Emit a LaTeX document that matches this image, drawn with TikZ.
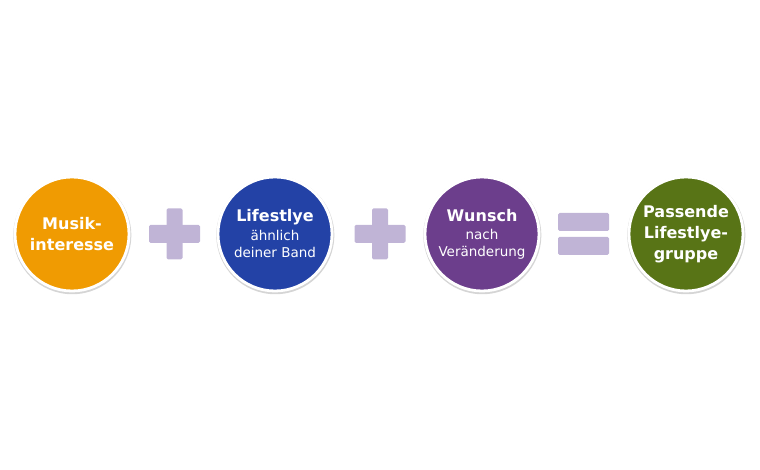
\documentclass[tikz,border=0pt]{standalone}
\usepackage{fontspec}
\setmainfont{DejaVu Sans}
\usepackage{xcolor}
\usetikzlibrary{positioning, shadows}

\definecolor{musikorange}{HTML}{F09B02}
\definecolor{bandblue}{HTML}{2342A6}
\definecolor{wunschpurple}{HTML}{6C3E8C}
\definecolor{gruppegreen}{HTML}{587416}
\definecolor{oplilac}{HTML}{C0B4D6}

\newcommand{\bubbletitle}{\fontsize{16}{20}\selectfont\bfseries}
\newcommand{\bubblesub}{\fontsize{13.5}{16}\selectfont\mdseries}

\begin{document}
\begin{tikzpicture}[x=1pt, y=1pt,
    bubble/.style={circle, draw=white, line width=2.8pt, minimum size=114pt, inner sep=0pt,
      text=white, align=center, font=\bubbletitle,
      drop shadow={shadow scale=1.035, shadow xshift=0.3pt, shadow yshift=-1.2pt, opacity=0.3, fill=black!55}},
    hbar/.style={rectangle, fill=oplilac, rounded corners=1.5pt, minimum width=51pt, minimum height=18pt, inner sep=0pt},
    vbar/.style={rectangle, fill=oplilac, rounded corners=1.5pt, minimum width=16pt, minimum height=51pt, inner sep=0pt}
  ]
    \useasboundingbox (0,0) rectangle (760,470);

    \node (musik) [bubble, fill=musikorange] at (72,236) {Musik-\\[1pt]interesse};

    \node (lifestyle) [bubble, fill=bandblue, right=203pt of musik.center, anchor=center] {Lifestlye\\[-1pt]{\bubblesub ähnlich}\\[-3pt]{\bubblesub deiner Band}};

    \node (wunsch) [bubble, fill=wunschpurple, right=207pt of lifestyle.center, anchor=center] {Wunsch\\[-2pt]{\bubblesub nach}\\[-3pt]{\bubblesub Veränderung}};

    \node (gruppe) [bubble, fill=gruppegreen, right=204pt of wunsch.center, anchor=center] {Passende\\[1pt]Lifestlye-\\[1pt]gruppe};

    % operators between the bubbles
    \node (plusa) [hbar] at (174.5,236) {};
    \node (plusav) [vbar] at (plusa) {};
    \node (plusb) [hbar] at (380,236) {};
    \node (plusbv) [vbar] at (plusb) {};
    \node (equalstop) [hbar] at (583.5,248) {};
    \node (equalsbot) [hbar, below=5.5pt of equalstop] {};

  \end{tikzpicture}
\end{document}
